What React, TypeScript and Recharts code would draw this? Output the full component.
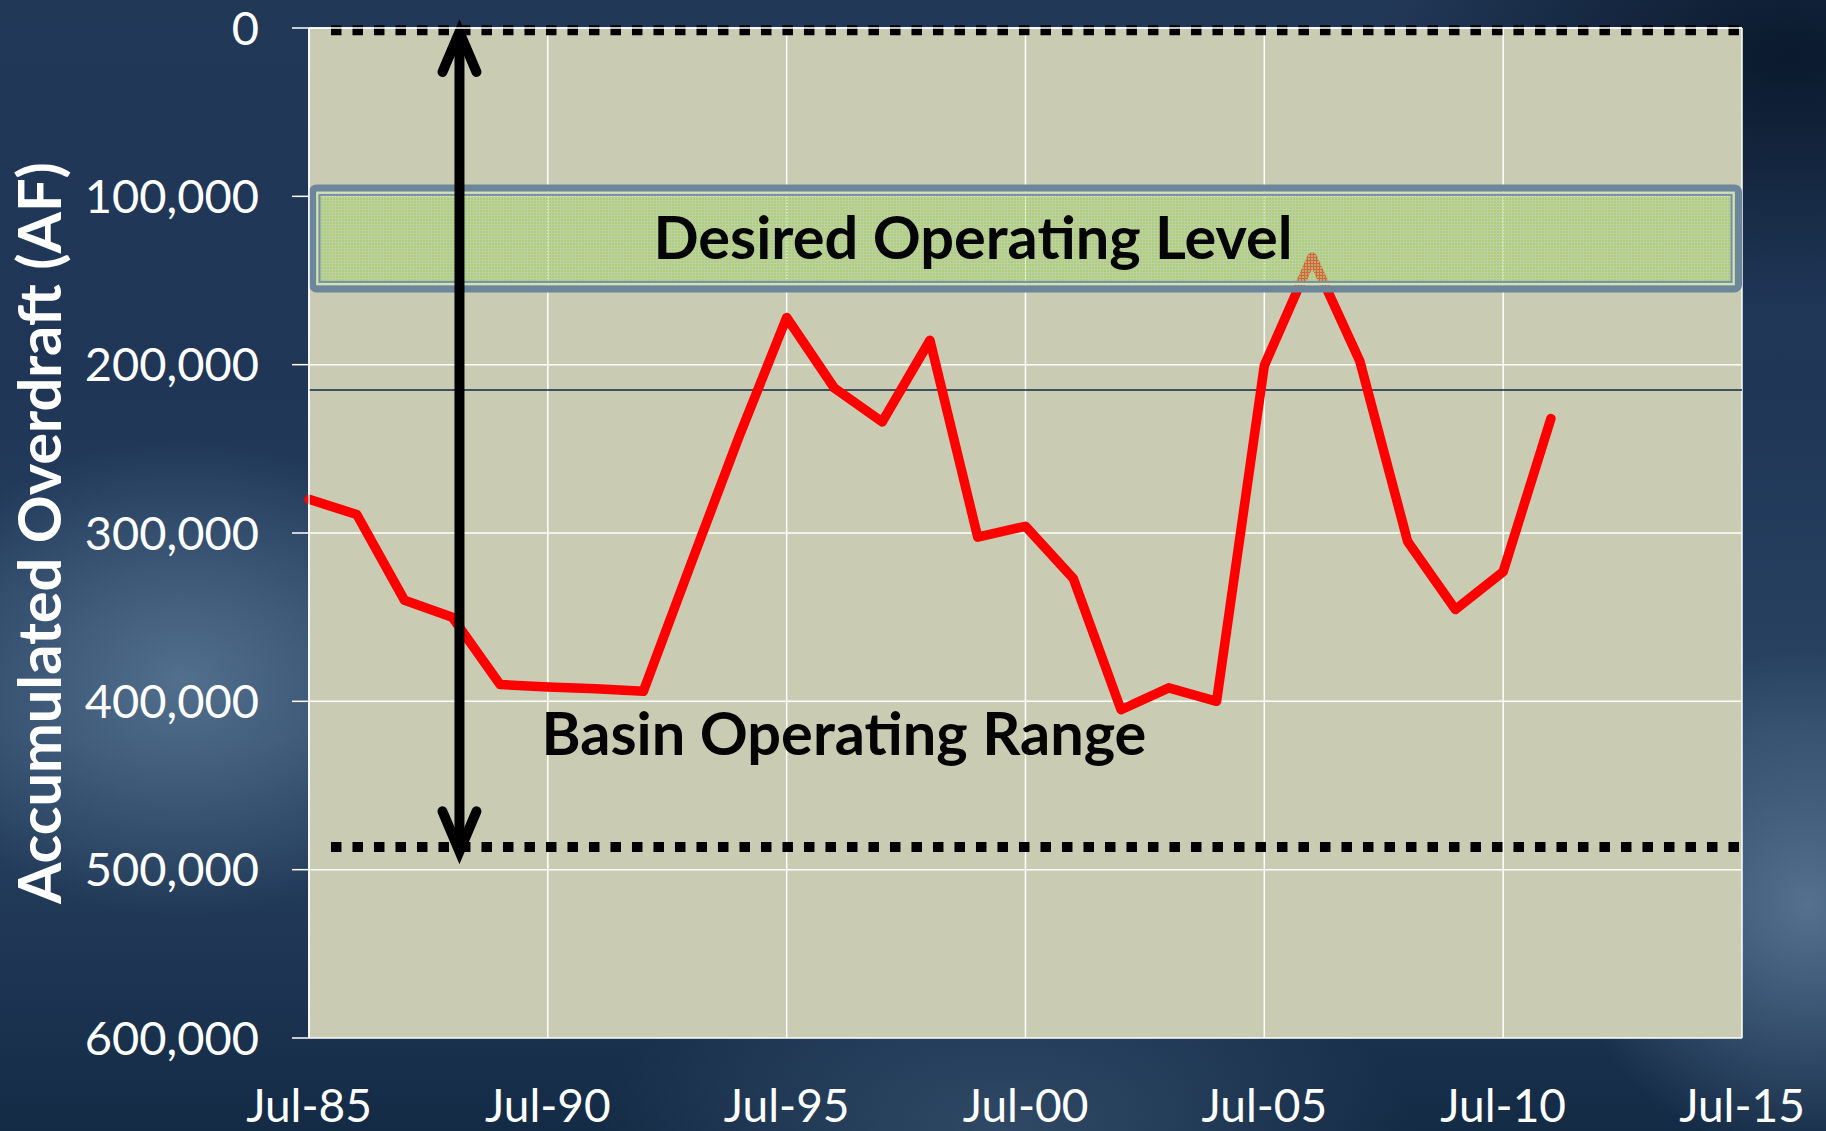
import {
  CartesianGrid,
  Line,
  LineChart,
  ReferenceArea,
  ReferenceDot,
  ReferenceLine,
  XAxis,
  YAxis,
} from 'recharts';

// July of each year
const years = [
  1985, 1986, 1987, 1988, 1989, 1990, 1991, 1992, 1993, 1994, 1995, 1996, 1997, 1998,
  1999, 2000, 2001, 2002, 2003, 2004, 2005, 2006, 2007, 2008, 2009, 2010, 2011,
];
const overdraft = [
  280000, 289000, 340000, 350000, 390000, 391500, 392500, 394000, 318000, 243000, 172000,
  214000, 234000, 185500, 302500, 296000, 327000, 405000, 392000, 400000, 200500, 136000,
  198000, 305000, 345500, 323000, 232000,
];

const xTicks = [1985, 1990, 1995, 2000, 2005, 2010, 2015];
const xTickLabels = ['Jul-85', 'Jul-90', 'Jul-95', 'Jul-00', 'Jul-05', 'Jul-10', 'Jul-15'];
const yTicks = [0, 100000, 200000, 300000, 400000, 500000, 600000];

// desired operating band and range limits (AF)
const desiredBand = [95000, 155000];
const rangeLimits = [1400, 486500];
const rangeLineX = [1985.46, 2015.15];
const arrowX = 1988.15;
const arrowSpan = [0, 491500];
const thinLineLevel = 215000;

const desiredLabel = { text: 'Desired Operating Level', x: 1998.9, y: 123800 };
const rangeLabel = { text: 'Basin Operating Range', x: 1996.2, y: 418500 };

const chartData = years.map((year, i) => ({ year, overdraft: overdraft[i] }));

const FONT = 'Lato, "Open Sans", sans-serif';

const BandShape = (props: any) => {
  const { x, y, width, height } = props;
  const bx = x + 3.5;
  const bw = width - 7;
  return (
    <g>
      <rect x={bx} y={y} width={bw} height={height} rx={4} fill="url(#bandDots)" stroke="#6c869c" strokeWidth={7} />
      <rect x={bx + 5} y={y + 5} width={bw - 10} height={height - 10} fill="none" stroke="#d4e0bd" strokeWidth={2} />
      <rect x={bx + 7} y={y + 7} width={bw - 14} height={height - 14} fill="none" stroke="#7890a3" strokeWidth={2} />
    </g>
  );
};

const ArrowShape = (props: any) => {
  const { x1, y1, y2 } = props;
  const top = Math.min(y1, y2) + 4;
  const bottom = Math.max(y1, y2) - 4;
  return (
    <g stroke="#000" strokeWidth={10} fill="none" strokeLinecap="round" strokeLinejoin="miter">
      <line x1={x1} y1={top} x2={x1} y2={bottom} strokeLinecap="butt" />
      <polyline points={`${x1 - 17},${top + 40} ${x1},${top} ${x1 + 17},${top + 40}`} />
      <polyline points={`${x1 - 17},${bottom - 40} ${x1},${bottom} ${x1 + 17},${bottom - 40}`} />
    </g>
  );
};

const textShape = (text: string) => (props: any) => (
  <text
    x={props.cx}
    y={props.cy}
    textAnchor="middle"
    dominantBaseline="central"
    fontFamily={FONT}
    fontWeight={700}
    fontSize={59.5}
    fill="#050505"
  >
    {text}
  </text>
);

const YTitle = (props: any) => {
  const vb = props.viewBox || { y: 0, height: 0 };
  const cy = vb.y + vb.height / 2;
  return (
    <text
      x={37.5}
      y={cy}
      transform={`rotate(-90, 37.5, ${cy})`}
      textAnchor="middle"
      dominantBaseline="central"
      fontFamily={FONT}
      fontWeight={700}
      fontSize={59.5}
      fill="#ffffff"
    >
      Accumulated Overdraft (AF)
    </text>
  );
};

export default function App() {
  return (
    <div
      style={{
        position: 'absolute',
        left: 0,
        top: 0,
        width: 1826,
        height: 1131,
        overflow: 'hidden',
        background: [
          'radial-gradient(ellipse 22% 28% at 10% 60%, rgba(96,126,156,0.75), rgba(96,126,156,0) 75%)',
          'radial-gradient(ellipse 18% 30% at 99% 80%, rgba(96,126,156,0.8), rgba(96,126,156,0) 75%)',
          'radial-gradient(ellipse 30% 22% at 55% 100%, rgba(80,110,140,0.45), rgba(80,110,140,0) 75%)',
          'radial-gradient(ellipse 30% 30% at 98% 5%, rgba(8,22,40,0.9), rgba(8,22,40,0) 75%)',
          'linear-gradient(180deg, #223857 0%, #1f3657 35%, #2a4464 65%, #142b46 100%)',
        ].join(', '),
      }}
    >
      <LineChart
        width={1826}
        height={1131}
        data={chartData}
        margin={{ top: 0, right: 84, bottom: 0, left: 0 }}
      >
        <defs>
          <pattern id="bandDots" width="3" height="3" patternUnits="userSpaceOnUse">
            <rect width="3" height="3" fill="#b7d391" fillOpacity={0.45} />
            <rect width="2" height="2" fill="#a3d16a" fillOpacity={0.7} />
          </pattern>
        </defs>
        <CartesianGrid stroke="#ffffff" strokeWidth={1.5} fill="#c9ccb3" fillOpacity={1} />
        <XAxis
          xAxisId="top"
          orientation="top"
          type="number"
          domain={[1985, 2015]}
          allowDataOverflow
          ticks={xTicks}
          interval={0}
          height={28}
          tickSize={16}
          tick={false}
          tickLine={{ stroke: '#ffffff', strokeWidth: 1.5 }}
          axisLine={{ stroke: '#ffffff', strokeWidth: 1.5 }}
        />
        <XAxis
          dataKey="year"
          type="number"
          domain={[1985, 2015]}
          ticks={xTicks}
          interval={0}
          height={93}
          tickSize={0}
          tickMargin={51}
          tickLine={false}
          axisLine={false}
          tickFormatter={(v: number) => xTickLabels[xTicks.indexOf(v)]}
          tick={{ fill: '#ffffff', fontSize: 46, fontFamily: FONT }}
        />
        <YAxis
          type="number"
          reversed
          domain={[0, 600000]}
          ticks={yTicks}
          interval={0}
          width={309}
          tickSize={17}
          tickMargin={33}
          tickLine={{ stroke: '#ffffff', strokeWidth: 1.5 }}
          axisLine={{ stroke: '#ffffff', strokeWidth: 1.5 }}
          tickFormatter={(v: number) => v.toLocaleString('en-US')}
          tick={{ fill: '#ffffff', fontSize: 47, fontFamily: FONT }}
          label={{ content: <YTitle /> }}
        />
        <ReferenceLine y={thinLineLevel} stroke="#112844" strokeWidth={1.5} />
        <Line
          type="linear"
          dataKey="overdraft"
          stroke="#ff0000"
          strokeWidth={9.5}
          strokeLinejoin="round"
          strokeLinecap="round"
          dot={false}
          activeDot={false}
          isAnimationActive={false}
        />
        <ReferenceArea
          y1={desiredBand[0]}
          y2={desiredBand[1]}
          ifOverflow="visible"
          shape={(p: any) => <BandShape {...p} />}
          zIndex={450}
        />
        {rangeLimits.map((level) => (
          <ReferenceLine
            key={level}
            segment={[
              { x: rangeLineX[0], y: level },
              { x: rangeLineX[1], y: level },
            ]}
            ifOverflow="visible"
            stroke="#000000"
            strokeWidth={10}
            strokeDasharray="10.5 11"
            zIndex={460}
          />
        ))}
        <ReferenceLine
          segment={[
            { x: arrowX, y: arrowSpan[0] },
            { x: arrowX, y: arrowSpan[1] },
          ]}
          ifOverflow="visible"
          shape={(p: any) => <ArrowShape {...p} />}
          zIndex={470}
        />
        <ReferenceDot
          x={desiredLabel.x}
          y={desiredLabel.y}
          r={1}
          ifOverflow="visible"
          shape={textShape(desiredLabel.text)}
          zIndex={480}
        />
        <ReferenceDot
          x={rangeLabel.x}
          y={rangeLabel.y}
          r={1}
          ifOverflow="visible"
          shape={textShape(rangeLabel.text)}
          zIndex={480}
        />
      </LineChart>
    </div>
  );
}
